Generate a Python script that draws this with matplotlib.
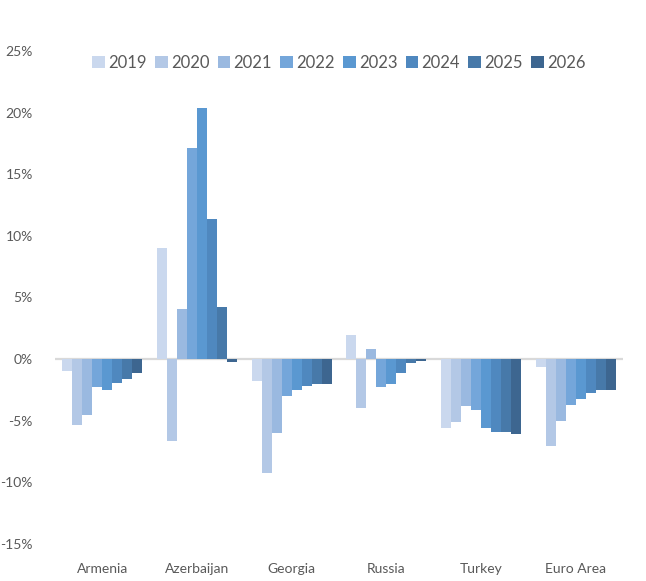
import matplotlib
matplotlib.use("Agg")
import matplotlib.pyplot as plt
import numpy as np

plt.rcParams['font.family'] = ['Lato', 'DejaVu Sans']

countries = ["Armenia", "Azerbaijan", "Georgia", "Russia", "Turkey", "Euro Area"]
years = ["2019", "2020", "2021", "2022", "2023", "2024", "2025", "2026"]

# Values in percent, one list per year (order follows countries)
v2019 = [-0.95, 9.05, -1.8, 1.95, -5.57, -0.6]
v2020 = [-5.35, -6.68, -9.25, -3.95, -5.08, -7.03]
v2021 = [-4.54, 4.05, -6.0, 0.8, -3.84, -5.03]
v2022 = [-2.25, 17.1, -2.97, -2.27, -4.14, -3.73]
v2023 = [-2.49, 20.4, -2.49, -2.0, -5.6, -3.24]
v2024 = [-1.92, 11.4, -2.16, -1.16, -5.95, -2.76]
v2025 = [-1.62, 4.2, -2.05, -0.35, -5.9, -2.54]
v2026 = [-1.11, -0.2, -2.0, -0.15, -6.08, -2.5]
series = [v2019, v2020, v2021, v2022, v2023, v2024, v2025, v2026]

colors = ["#CAD8EE", "#B3C8E6", "#9AB9E0", "#74A6DA", "#5A98D1",
          "#4F88BF", "#4779A9", "#3D6690"]

ytick_vals = [-15, -10, -5, 0, 5, 10, 15, 20, 25]
ytick_labels = [f"{v}%" for v in ytick_vals]

W, H = 646, 581
fig = plt.figure(figsize=(W / 100, H / 100), dpi=100)
left, right = 55, 623
top, bottom = 51, 544
ax = fig.add_axes([left / W, (H - bottom) / H, (right - left) / W, (bottom - top) / H])

x = np.arange(len(countries))
n = len(series)
group_w = 0.845
bw = group_w / n
for i, (vals, yr, c) in enumerate(zip(series, years, colors)):
    offs = -group_w / 2 + bw * (i + 0.5)
    ax.bar(x + offs, vals, width=bw, color=c, label=yr, zorder=2,
           edgecolor='none')

ax.axhline(0, color="#D9D9D9", linewidth=1.6, zorder=1)
ax.set_xlim(-0.5, len(countries) - 0.5)
ax.set_ylim(-15, 25)
ax.set_yticks(ytick_vals)
ax.set_yticklabels(ytick_labels)
ax.set_xticks(x)
ax.set_xticklabels(countries)

for s in ax.spines.values():
    s.set_visible(False)
ax.tick_params(axis='y', length=0, pad=16, labelsize=10, labelcolor="#595959")
ax.tick_params(axis='x', length=0, pad=14, labelsize=10, labelcolor="#595959")

leg = ax.legend(loc='center', bbox_to_anchor=(339 / W, (H - 63) / H),
                bbox_transform=fig.transFigure, ncol=8, frameon=False,
                fontsize=12, handlelength=0.75, handleheight=0.75,
                handletextpad=0.2, columnspacing=0.5, borderpad=0)
for t in leg.get_texts():
    t.set_color("#595959")

fig.savefig("out.png", dpi=100)
